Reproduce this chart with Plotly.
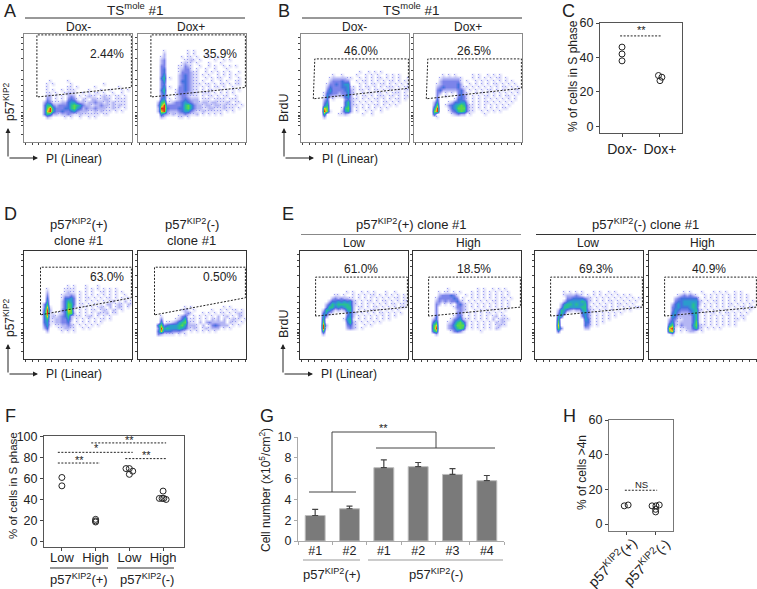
import plotly.graph_objects as go

W, H = 757, 589
FONT = "Liberation Sans"
TXT = "#222222"

# ---------- flow-cytometry density read-offs: each char is one 3px cell, 0 (.) to 9 ----------
A1_START = 15
A1_ROWS = ["........1.....1", ".......1.1.....1..........1", ".......1......11.1.....1.......1",
 ".......1.1..1.111....1...1..1...1.1", ".......11.1..1211..1.1.11.1..1..1", ".......22.1.1.232.1.1211.1211.11.1",
 ".......32.1.1.3431.21.2211221.1111", "......2431112245532212232212121111", "......3663233346765322122322121211",
 "......37953334467542322322211211.1", "......38953343345322211212111.1.1", "......3652212232112111111.11",
 ".......21....1.1..1..1.1"]
A2_START = 5
A2_ROWS = ["........1.......1.1", "........2.......1.1...1", ".......12.....1.11.1...1..1", ".......23......1121.1....1..1.1",
 ".......23.....1211.1...1...1", ".......33....11321..1..1.1..1.1.1", ".......34....12331.1..1..1...1",
 ".......34....1333211..1.1.1.1.1..1", ".......35....2343211.1.1..1.1.1.1", ".......46.1..2343211..1.1.11..1..1",
 ".......35....2443211.1..1..1.1..11", ".......34....23432111.11.1.11.1.11", ".......35.1..3343211.1.1.11.1..1",
 ".......46...13343211.1.11..1.1.1.1", ".......35...13332211.111.1.1.1.1", ".......341..12332111.1.11.1.11..1",
 ".......45.1.12343222.111.1111.111", "......2671123345432212212211121.11", "......379333334675322122122121111.1",
 "......29943334467532211221112111.1", "......2893222345532112111111.1.1", ".......5321212232112.1.1.1.1",
 ".......21....11.1"]
B1_START = 12
B1_ROWS = ["...................1..1.1.1", "..........1..1....1..1.1.1..1.1.1", ".........12222211..1.1.1.11.1.1.1..1",
 ".........2333433..1.11.1.1.1.11.1.1", "........13343455...1.1.11.11.1.1.1.1", "........2433344511.1.11.1.1.111.1.11",
 "........3533334521.11.1.11.1.1.11.11", ".......14433233521..1.11.11.1.111.1", ".......1522112452.1.11.1.111.11.1.11",
 ".......24.1...34211.1.1.11.1.1.11.1", ".......35.....4621.1.1.1.1.11.1.1", ".......46.....46211.1.1.11.1.1.1.",
 ".......87....1672.1.1.1.1.1.1", ".......971...2562.1..1.1..1", ".......6....1121....1..1", ".......2"]
B2_START = 13
B2_ROWS = [".........1.1.1.....1.1..1.1.1", "........12222221...1.1.1.1.11.1", "........23333331.1..1.1.1.1.1.1.1",
 ".......123333342..1.1.1.1.11.1.1.1", ".......23433334211.1.1.1.1.1.11.1.1", ".......3422222342.1.1.1.11.1.1.1.11",
 ".......32.1.1.3421..1.1.1.1.1.1.1.1", ".......3..1...3431.1.1.11.1.1.11.1", ".......4.....14431.1.1.1.1.1.1.1.1",
 "......25...1244552.1.1.11.1.1.1.1", "......37..1345676311.1.1.1.1.1.1", "......59...245777311.1.1.1.1.11",
 "......79...134676311..1.1.1.1", "......5.....12322.1....1", ".......1"]
D1_START = 11
D1_ROWS = ["..............1.1...1...1.....", ".......1.....1111...1.1.1.1.1.1", ".......2.....1211.1.1.1..11.1.1.1",
 ".......3....12232.1.1.1.1.1.1.1..1", ".......4....14453.1.11.1.1.11.1.1.1", ".......5....24653.1.1.1.1.1.12.1.2.1",
 "......36....24763.11.1.1.1.22.121.21", "......381...24762.1.1.1.121.2.121.1", "......492...34871.1.1.11.121.21.1",
 "......5911.124772.1.1.1.2112.11.", "......4812123462111.121.1.1.1", "......4611223352.1.1.1.1.11.1",
 "......4511223341.1.1.1.1.1", "......351.1122321.1.1.1.1", "......24...112211..1.1", ".......2....1.1.1"]
D2_START = 18
D2_ROWS = ["...............1.1..........1.1", "..............121.1.....1..1.1.11.1", "...............231...1.1.1.11.1.121",
 ".......1.....1341.1.1.1.1.2.12.1.21", ".......3....1246111.1.1.212.2.1211.1", ".......5.1123567211.2.2322222.211.1",
 "......57345556752221.2.1343222.1.1", "......39565556542121.121222.1.1", "......4844433321.1.1.1.1.1", "......321111.1.1"]
E1_START = 13
E1_ROWS = ["...............1.1..1.1.1...1..1", "...........11.1..1.1.1.11.1.1.1.1.1", "..........23232211.1.1.1.1.1.1.11.1",
 ".........2445454521.1.11.1.11.1.1.11", "........24656666521.1.1.1.1.1.11.11", "........3664545662.11.1.11.1.1.1.11",
 ".......26531212562.1.1.11.1.1.1.1.", ".......4521....3521.1.1.1.11.1.1.1", ".......53......452.1.1.1.1.1.1.1",
 ".......6......1561.1.1.1.1.1.1", ".......7.......4621.1.1.1.1", ".......92......3421..1.1", ".......91......2321.1", ".......6", ".......2"]
E2_START = 12
E2_ROWS = ["...........1.........1.1..1.1.1", "........1.11.1.1...1.1.1.1.1.1.1", "........2333431..1.1.1.1.1.1.1.1",
 ".......13333343.1..1.1.1.1.1.11.1", ".......2323233421.1.1.1.1.11.1.1", ".......32.1.1.3421.1.1.1.1.1.1.1",
 ".......3.....13321.1.1.1.1.1.1.1", ".......3......2321..1.1.1.1.1.1", ".......3......331.1.1.1.11.1.1",
 ".......4.....1341.1.1.1.1.12.11", "......24....1345211.1.1.1.2.1211", "......46...1246752.1.1.1.1.2121.",
 "......68...2357772.1.1.1.1.1211", "......69...2346761.1.1.1.1.21", "......57....13431.....1", ".......2"]
E3_START = 13
E3_ROWS = [".........1.1.1.1...1.1..1.1.", ".........1222321.1.1.1.1.1.1.1.1", "..........334444321.1.1.1.1.1.1.1.1",
 ".........2455556521.1.1.11.1.1.1.1", "........2566565562.1.1.1.1.11.1.1", "........36655556621.1.11.1.1.1.1.11",
 ".......2653212256311.1.1.1.1.1.1", ".......364.....4531.1.1.1.1.1.", ".......55......3531.1.1.1.1.",
 ".......6........541.1.1.1", ".......7........441.1.1", ".......8........431.1", ".......73.......22", ".......4"]
E4_START = 13
E4_ROWS = ["...........1.1...1...1.1.1..1.1", ".........1232321..1.1.1.1.1.1.1.1", "........234444441.1.1.1.1.1.1.1.1",
 "........3445555521.1.11.1.1.1.1.1.1", ".......2454555652.1.1.1.1.11.1.1.1", ".......3454445651.1.1.1.1.1.1.11.11",
 ".......35433345621.1.1.1.1.1.1.1.1", ".......4532223561.1.11.1.11.1.1.1", ".......5422222461.1.1.1.1.1.1.11",
 "......24311222461.1.1.1.1.1.11.1", "......35212222471.1.1.1.1.1.1", "......5721322257211.1.1.1.1.1",
 "......891.11224621.1.1.1", "......781.1.1221.1", ".......2"]

# gate outlines on the 36-cell flow axes: (left top x, left bottom x, top y, right bottom y, left bottom y)
GATE_A = (4.3, 4.3, 0.3, 17.8, 21.0)
GATE_B = (4.6, 4.1, 8.3, 18.1, 21.6)
GATE_D = (5.5, 5.5, 5.4, 15.6, 21.3)
GATE_E = (5.2, 5.2, 8.7, 18.7, 21.7)

# ---------- summary panels ----------
C_CATS = ["Dox-", "Dox+"]
C_X = [0, 0, 0, 0.96, 1.05, 1.0]
C_Y = [46, 42, 38, 29.5, 28.5, 26.5]
F_CATS = ["Low", "High", "Low", "High"]
F_X = [0, 0, 1, 1, 1, 1.9, 2.0, 2.1, 2.0, 2.89, 2.97, 3.02, 3.09]
F_Y = [61, 53, 21, 19.5, 18.5, 69.5, 69.5, 67, 64, 41, 41, 41, 40]
F_X2 = [3.0]
F_Y2 = [48]
G_LABELS = ["#1", "#2", "#1", "#2", "#3", "#4"]
G_VALUES = [2.45, 3.1, 7.05, 7.15, 6.4, 5.8]
G_ERR = [0.6, 0.25, 0.75, 0.4, 0.55, 0.5]
H_CATS = ["p57<sup>KIP2</sup>(+)", "p57<sup>KIP2</sup>(-)"]
H_X = [-0.06, 0.07, 0.87, 1.0, 1.11, 0.99, 0.99]
H_Y = [10.5, 11, 10.5, 10.5, 11, 8.5, 7]

SCALE = [[0, "#ffffff"], [1/9, "#dfdffb"], [2/9, "#b4b6f4"], [3/9, "#7c84ea"], [4/9, "#4472de"],
         [5/9, "#2a9ccc"], [6/9, "#28c090"], [7/9, "#5cd84a"], [8/9, "#e8cc20"], [1, "#e0301a"]]

fig = go.Figure()
layout = {}
annots = []
shapes = []
n = [0]


def new_axes(x0, x1, y0, y1):
    n[0] += 1
    i = "" if n[0] == 1 else str(n[0])
    xa, ya = "xaxis" + i, "yaxis" + i
    dom_x = [x0 / W, x1 / W]
    dom_y = [1 - y1 / H, 1 - y0 / H]
    layout[xa] = dict(domain=dom_x, anchor="y" + i)
    layout[ya] = dict(domain=dom_y, anchor="x" + i)
    return "x" + i, "y" + i, xa, ya


def text(x, y, s, size=12.5, anchor="center", angle=0, color=TXT):
    annots.append(dict(x=x / W, y=1 - y / H, xref="paper", yref="paper", text=s, showarrow=False,
                       xanchor=anchor, yanchor="middle", textangle=angle,
                       font=dict(family=FONT, size=size, color=color)))


def line(x0, y0, x1, y1, color="#333333", width=1, dash="solid"):
    shapes.append(dict(type="line", xref="paper", yref="paper", x0=x0 / W, x1=x1 / W,
                       y0=1 - y0 / H, y1=1 - y1 / H, line=dict(color=color, width=width, dash=dash)))


def arrows(cx, cy, top, right):
    for tx, ty in ((cx, top), (right, cy)):
        annots.append(dict(x=tx / W, y=1 - ty / H, xref="paper", yref="paper", showarrow=True, text="",
                           ax=cx - tx, ay=cy - ty, axref="pixel", ayref="pixel",
                           arrowhead=2, arrowsize=1, arrowwidth=1, arrowcolor="#222222"))


def grid(start, rows):
    z = [[0] * 36 for _ in range(36)]
    for r, s in enumerate(rows):
        for c, ch in enumerate(s[:36]):
            if ch != ".":
                z[start + r][c] = int(ch)
    return z


FLOW_X_TICKS = [0.5, 2.7, 4.9, 7.1, 9.3, 11.5, 13.7, 15.9, 18.1, 20.3, 22.5, 24.7, 26.9, 29.1, 31.3, 33.5, 35.7]
FLOW_Y_TICKS = [1, 3, 5, 8, 12, 15, 17, 19, 20.5, 22, 24, 26, 27, 27.5, 28, 29, 30.5, 33.5]


def flow(x0, y0, start, rows, gate, frame):
    xn, yn, xa, ya = new_axes(x0, x0 + 108, y0, y0 + 108)
    z = grid(start, rows)
    sparse_x = [c + 0.5 for row in z for c, v in enumerate(row) if v == 1]
    sparse_y = [r + 0.5 for r, row in enumerate(z) for v in row if v == 1]
    fig.add_trace(go.Heatmap(z=z, x=[c + 0.5 for c in range(36)], y=[r + 0.5 for r in range(36)],
                             colorscale=SCALE, zmin=0, zmax=9, zsmooth="best", showscale=False,
                             xaxis=xn, yaxis=yn, hoverinfo="skip"))
    fig.add_trace(go.Scatter(x=sparse_x, y=sparse_y, mode="markers",
                             marker=dict(symbol="circle", size=1.2, color="#8c90ee", line=dict(width=0)),
                             xaxis=xn, yaxis=yn, hoverinfo="skip", showlegend=False))
    lt, lb, top, rb, lby = gate
    fig.add_trace(go.Scatter(x=[lb, lt, 35.8, 35.8, lb], y=[lby, top, top, rb, lby], mode="lines",
                             line=dict(color="#222222", width=1, dash="2px,1.5px"), xaxis=xn, yaxis=yn,
                             hoverinfo="skip", showlegend=False))
    common = dict(showline=True, mirror=True, linecolor=frame, linewidth=1.3, showgrid=False, zeroline=False,
                  ticks="outside", ticklen=2, tickwidth=1, tickcolor="#444444", showticklabels=False)
    layout[xa].update(range=[0, 36], tickmode="array", tickvals=FLOW_X_TICKS, **common)
    layout[ya].update(range=[36, 0], tickmode="array", tickvals=FLOW_Y_TICKS, **common)


GRAY = "#8a8a8a"
DARK = "#333333"
flow(24, 34, A1_START, A1_ROWS, GATE_A, GRAY)
flow(138, 34, A2_START, A2_ROWS, GATE_A, GRAY)
flow(301, 34, B1_START, B1_ROWS, GATE_B, GRAY)
flow(414, 34, B2_START, B2_ROWS, GATE_B, GRAY)
flow(24, 251, D1_START, D1_ROWS, GATE_D, DARK)
flow(138, 251, D2_START, D2_ROWS, GATE_D, DARK)
flow(300, 251, E1_START, E1_ROWS, GATE_E, DARK)
flow(413, 251, E2_START, E2_ROWS, GATE_E, DARK)
flow(535, 251, E3_START, E3_ROWS, GATE_E, DARK)
flow(649, 251, E4_START, E4_ROWS, GATE_E, DARK)

MARK = dict(symbol="circle-open", size=6, color="#222222", line=dict(width=1, color="#222222"))
SUM_TICK = dict(tickfont=dict(family=FONT, size=12.5, color=TXT), showgrid=False, zeroline=False, ticks="outside",
                ticklen=3, tickcolor="#444444", showline=True, linecolor="#555555", linewidth=1)

# panel C
xn, yn, xa, ya = new_axes(600, 682, 23, 133)
fig.add_trace(go.Scatter(x=C_X, y=C_Y, mode="markers", marker=MARK, xaxis=xn, yaxis=yn, showlegend=False))
fig.add_trace(go.Scatter(x=[-0.05, 1.05], y=[52.5, 52.5], mode="lines", line=dict(color="#222", width=1, dash="2px,1.5px"),
                         xaxis=xn, yaxis=yn, showlegend=False))
layout[xa].update(range=[-0.58, 1.58], tickmode="array", tickvals=[0, 1], ticktext=C_CATS, mirror=True, **SUM_TICK)
layout[xa]["tickfont"] = dict(family=FONT, size=14, color=TXT)
layout[ya].update(range=[-3.9, 60], tickmode="array", tickvals=[0, 20, 40, 60], mirror=True, **SUM_TICK)

# panel F
xn, yn, xa, ya = new_axes(44, 184, 436, 547)
fig.add_trace(go.Scatter(x=F_X + F_X2, y=F_Y + F_Y2, mode="markers", marker=MARK, xaxis=xn, yaxis=yn, showlegend=False))
F_LINES = [(-0.12, 1.13, 74.8), (-0.12, 2.1, 85), (0.87, 3.09, 94), (1.88, 3.12, 79)]
for a, b, v in F_LINES:
    fig.add_trace(go.Scatter(x=[a, b], y=[v, v], mode="lines", line=dict(color="#222", width=1, dash="2px,1.5px"),
                             xaxis=xn, yaxis=yn, showlegend=False))
layout[xa].update(range=[-0.53, 3.62], tickmode="array", tickvals=[0, 1, 2, 3], ticktext=F_CATS, mirror=True,
                  ticklabelstandoff=-5, **SUM_TICK)
layout[xa]["tickfont"] = dict(family=FONT, size=13, color=TXT)
layout[ya].update(range=[-5.4, 100.6], tickmode="array", tickvals=[0, 20, 40, 60, 80, 100], mirror=True, **SUM_TICK)

# panel G
xn, yn, xa, ya = new_axes(298, 504, 437, 541)
fig.add_trace(go.Bar(x=list(range(6)), y=G_VALUES, width=0.58, marker=dict(color="#7a7a7a", line=dict(color="#bdbdbd", width=1)),
                     error_y=dict(type="data", symmetric=False, array=G_ERR, arrayminus=[0] * 6, color="#444444", thickness=1.2, width=3),
                     xaxis=xn, yaxis=yn, showlegend=False))
layout[xa].update(range=[-0.5, 5.5], tickmode="array", tickvals=list(range(6)), ticktext=G_LABELS,
                  showgrid=False, zeroline=False, ticks="", showline=True, linecolor="#aaaaaa", linewidth=1,
                  tickfont=dict(family=FONT, size=12.5, color=TXT), ticklabelstandoff=-2,
                  minor=dict(tickmode="array", tickvals=[-0.5, 0.5, 1.5, 2.5, 3.5, 4.5, 5.5], ticks="outside", ticklen=3, tickcolor="#aaaaaa"))
layout[ya].update(range=[0, 10], tickmode="array", tickvals=[0, 2, 4, 6, 8, 10], showgrid=False, zeroline=False, ticks="outside",
                  ticklen=3, tickcolor="#aaaaaa", showline=True, linecolor="#aaaaaa", linewidth=1,
                  tickfont=dict(family=FONT, size=12.5, color=TXT))

# panel H
xn, yn, xa, ya = new_axes(609, 673, 420, 531)
fig.add_trace(go.Scatter(x=H_X, y=H_Y, mode="markers", marker=MARK, xaxis=xn, yaxis=yn, showlegend=False))
fig.add_trace(go.Scatter(x=[-0.04, 1.04], y=[19.5, 19.5], mode="lines", line=dict(color="#222", width=1, dash="2px,1.5px"),
                         xaxis=xn, yaxis=yn, showlegend=False))
layout[xa].update(range=[-0.57, 1.57], tickmode="array", tickvals=[0, 1], showticklabels=False, mirror=True, **SUM_TICK)
layout[ya].update(range=[-4, 60], tickmode="array", tickvals=[0, 20, 40, 60], mirror=True, **SUM_TICK)
layout[xa]["linecolor"] = "#777777"
layout[ya]["linecolor"] = "#777777"
text(612, 562, H_CATS[0], 14, angle=-45)
text(646, 562, H_CATS[1], 14, angle=-45)

# panel letters
for x, y, s in [(10, 11, "A"), (284, 11, "B"), (568, 11, "C"), (10, 214, "D"), (288, 214, "E"), (10, 416, "F"),
                (267, 416, "G"), (569, 416, "H")]:
    text(x, y, s, size=18)

# flow headings and values
TS = "TS<sup>mole</sup> #1"
text(135, 9, TS, 13.5)
text(411, 9, TS, 13.5)
line(25, 18, 245, 18, "#333333")
line(302, 18, 522, 18, "#333333")
for x, s in [(78, "Dox-"), (191, "Dox+"), (354, "Dox-"), (468, "Dox+")]:
    text(x, 27, s, 12)
for x, y, s in [(107, 54, "2.44%"), (220, 54, "35.9%"), (361, 51, "46.0%"), (474, 51, "26.5%"),
                (107, 277, "63.0%"), (220, 277, "0.50%"), (361, 269, "61.0%"), (474, 269, "18.5%"),
                (596, 269, "69.3%"), (709, 269, "40.9%")]:
    text(x, y, s, 12)
text(79, 224, "p57<sup>KIP2</sup>(+)", 13)
text(78, 241, "clone #1", 13)
text(192, 224, "p57<sup>KIP2</sup>(-)", 13)
text(191, 241, "clone #1", 13)
text(411, 224, "p57<sup>KIP2</sup>(+) clone #1", 13)
text(645, 224, "p57<sup>KIP2</sup>(-) clone #1", 13)
line(301, 234.5, 521, 234.5, "#888888")
line(536, 234.5, 756, 234.5, "#333333")
for x, s in [(354, "Low"), (468, "High"), (588, "Low"), (702, "High")]:
    text(x, 243, s, 12)

# axis captions and corner arrows
text(9, 102, "p57<sup>KIP2</sup>", 12, angle=-90)
text(284, 108, "BrdU", 12.5, angle=-90)
text(9, 318, "p57<sup>KIP2</sup>", 12, angle=-90)
text(284, 324, "BrdU", 12.5, angle=-90)
for cx, cy, lab_x in [(8, 158, 44), (284, 158, 320), (8, 374, 44), (283, 374, 319)]:
    arrows(cx, cy, cy - 30, cx + 30)
    text(lab_x, cy + 0.5, "PI (Linear)", 12, anchor="left")

# summary captions
text(573, 76, "% of cells in S phase", 12, angle=-90)
text(641, 30, "**", 11)
text(13, 486, "% of cells in S phase", 11.5, angle=-90)
for x, y, s in [(79, 460, "**"), (96, 448, "*"), (129, 440, "**"), (146, 455, "**")]:
    text(x, y, s, 11)
line(50, 568, 108, 568, "#333333")
line(117, 568, 174, 568, "#333333")
text(79, 579, "p57<sup>KIP2</sup>(+)", 13)
text(147, 579, "p57<sup>KIP2</sup>(-)", 13)
text(265, 490, "Cell number (x10<sup>5</sup>/cm<sup>2</sup>)", 12, angle=-90)
text(383, 428, "**", 11)
line(309, 492, 356, 492, "#444444")
line(332, 492, 332, 432, "#444444")
line(332, 432, 436, 432, "#444444")
line(436, 432, 436, 448, "#444444")
line(376, 448, 495, 448, "#444444")
line(303, 560, 360, 560, "#999999")
line(368, 560, 503, 560, "#999999")
text(332, 574, "p57<sup>KIP2</sup>(+)", 13)
text(436, 574, "p57<sup>KIP2</sup>(-)", 13)
text(582, 473, "% of cells >4n", 12, angle=-90)
text(641, 484, "NS", 9.5)

fig.update_layout(width=W, height=H, margin=dict(l=0, r=0, t=0, b=0, autoexpand=False), paper_bgcolor="white", plot_bgcolor="white",
                  showlegend=False, annotations=annots, shapes=shapes, font=dict(family=FONT, color=TXT), **layout)
fig.write_html("out.html", post_script="document.body.style.margin='0';", config={"displayModeBar": False})
